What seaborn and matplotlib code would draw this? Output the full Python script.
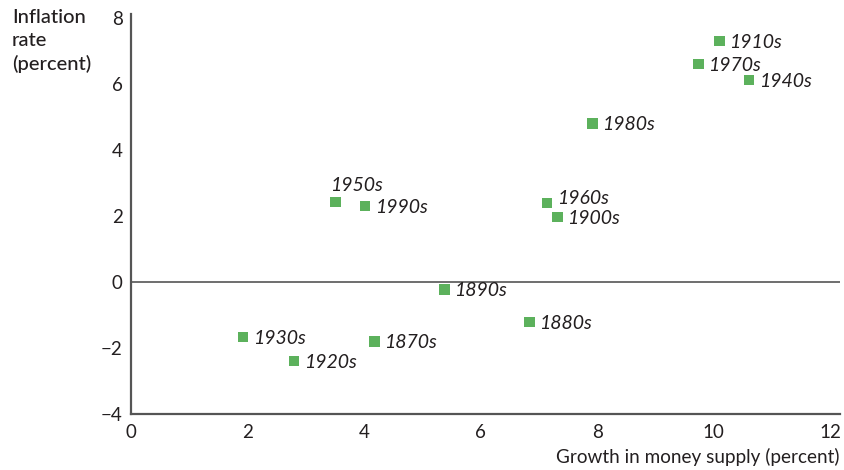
import matplotlib
matplotlib.use("Agg")
import matplotlib.pyplot as plt
import seaborn as sns
import pandas as pd

decades = ["1910s", "1970s", "1940s", "1980s", "1950s", "1990s", "1960s",
           "1900s", "1890s", "1880s", "1930s", "1870s", "1920s"]
money_growth = [10.10, 9.74, 10.61, 7.92, 3.51, 4.02, 7.14,
                7.32, 5.38, 6.84, 1.92, 4.18, 2.80]
inflation = [7.30, 6.61, 6.12, 4.80, 2.43, 2.30, 2.40,
             1.96, -0.23, -1.22, -1.67, -1.80, -2.39]
x_ticks = [0, 2, 4, 6, 8, 10, 12]
y_ticks = [-4, -2, 0, 2, 4, 6, 8]

sns.set_style("white")
plt.rcParams["font.family"] = ["Lato", "DejaVu Sans"]

df = pd.DataFrame({"decade": decades, "growth": money_growth, "inflation": inflation})

fig = plt.figure(figsize=(8.45, 4.70), dpi=100)
ax = fig.add_axes([131 / 845, 1 - 414 / 470, (840 - 131) / 845, (414 - 14) / 470])

axis_color = "#555555"
text_color = "#231f20"
ax.axhline(0, color=axis_color, lw=1.2, zorder=1)

sns.scatterplot(data=df, x="growth", y="inflation", marker="s", s=55,
                color="#5cb15c", edgecolor="none", ax=ax, zorder=3)

# label offsets (points) per decade
offsets = {"1950s": (-4, 12, "left"), "1960s": (7, 3, "left")}
for d, gx, iy in zip(decades, money_growth, inflation):
    dx, dy, ha = offsets.get(d, (7, -1, "left"))
    ax.annotate(d, (gx, iy), xytext=(dx, dy), textcoords="offset points",
                ha=ha, va="center", fontsize=14, fontstyle="italic", color=text_color)

ax.set_xlim(0, 12.17)
ax.set_ylim(-4, 8.12)
ax.set_xticks(x_ticks)
ax.set_yticks(y_ticks)
ax.set_yticklabels([("\u2212" + str(abs(v))) if v < 0 else str(v) for v in y_ticks])

for s in ["top", "right"]:
    ax.spines[s].set_visible(False)
for s in ["left", "bottom"]:
    ax.spines[s].set_color(axis_color)
    ax.spines[s].set_linewidth(1.6)

ax.tick_params(axis="x", direction="in", length=9, width=1.2, color=axis_color,
               labelsize=13.5, pad=7, labelcolor=text_color)
ax.tick_params(axis="y", direction="in", length=7, width=1.2, color=axis_color,
               labelsize=13.5, pad=6, labelcolor=text_color)
ax.set_xlabel("")
ax.set_ylabel("")

fig.text(12 / 845, 1 - 9 / 470, "Inflation\nrate\n(percent)", ha="left", va="top",
         fontsize=14.5, color=text_color, linespacing=1.4, fontweight="medium")
fig.text(840 / 845, 4 / 470, "Growth in money supply (percent)",
         ha="right", va="bottom", fontsize=13.6, color=text_color)

fig.savefig("out.png", dpi=100)
